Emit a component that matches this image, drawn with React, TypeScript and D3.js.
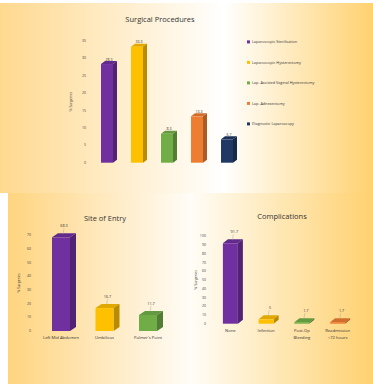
import React from "react";
import * as d3 from "d3";

const surgCats = ["Laparoscopic Sterilisation", "Laparoscopic Hysterectomy", "Lap. Assisted Vaginal Hysterectomy", "Lap. Adnexectomy", "Diagnostic Laparoscopy"];
const surgVals = [28.3, 33.3, 8.3, 13.3, 6.7];
const surgTicks = [0, 5, 10, 15, 20, 25, 30, 35];

const siteCats = ["Left Mid Abdomen", "Umbilicus", "Palmer's Point"];
const siteVals = [68.3, 16.7, 11.7];
const siteTicks = [0, 10, 20, 30, 40, 50, 60, 70];

const compCats = [["None"], ["Infection"], ["Post-Op", "Bleeding"], ["Readmission", "<72 hours"]];
const compVals = [91.7, 5, 1.7, 1.7];
const compTicks = [0, 10, 20, 30, 40, 50, 60, 70, 80, 90, 100];

const colors = ["#7030A0", "#FFC000", "#70AD47", "#ED7D31", "#1F3864"];
const FONT = "'Open Sans', 'Liberation Sans', sans-serif";

function Bar3D({ x, w, y0, y1, dx, dy, color }: any) {
  const c = d3.color(color)!;
  const top = c.darker(0.35).toString();
  const side = c.darker(0.9).toString();
  return (
    <g>
      <polygon points={`${x},${y1} ${x + dx},${y1 - dy} ${x + w + dx},${y1 - dy} ${x + w},${y1}`} fill={top} />
      <polygon points={`${x + w},${y1} ${x + w + dx},${y1 - dy} ${x + w + dx},${y0 - dy} ${x + w},${y0}`} fill={side} />
      <rect x={x} y={y1} width={w} height={y0 - y1} fill={color} />
    </g>
  );
}

function YAxis({ y, ticks, x, titleX }: any) {
  const [r0, r1] = y.range();
  return (
    <g>
      {ticks.map((t: number) => (
        <text key={t} x={x} y={y(t) + 1.2} fontSize={3.6} textAnchor="end" fill="#444" fontFamily={FONT}>{t}</text>
      ))}
      <text transform={`translate(${titleX},${(r0 + r1) / 2}) rotate(-90)`} fontSize={3.6} textAnchor="middle" fill="#444" fontFamily={FONT}>% Surgeries</text>
    </g>
  );
}

export default function App() {
  const xS = d3.scaleBand().domain(surgCats).range([92, 242]).paddingInner(0.6).paddingOuter(0.3);
  const yS = d3.scaleLinear().domain([0, 35]).range([162.7, 40.7]);
  const xE = d3.scaleBand().domain(siteCats).range([30.25, 178.75]).paddingInner(0.586).paddingOuter(0.5);
  const yE = d3.scaleLinear().domain([0, 70]).range([331, 235]);
  const compKeys = compCats.map((c) => c.join(" "));
  const xC = d3.scaleBand().domain(compKeys).range([205, 363]).paddingInner(0.58).paddingOuter(0.5);
  const yC = d3.scaleLinear().domain([0, 100]).range([323.7, 236]);

  return (
    <svg width={373} height={387} style={{ position: "absolute", left: 0, top: 0 }}>
      <defs>
        <linearGradient id="gTop" x1="0" x2="1" y1="0" y2="0">
          <stop offset="0" stopColor="#FFD98F" />
          <stop offset="0.6" stopColor="#FFFFFF" />
          <stop offset="1" stopColor="#FFD170" />
        </linearGradient>
        <linearGradient id="gBL" x1="0" x2="1" y1="0" y2="0">
          <stop offset="0" stopColor="#FFD47F" />
          <stop offset="1" stopColor="#FFFCF7" />
        </linearGradient>
        <linearGradient id="gBR" x1="0" x2="1" y1="0" y2="0">
          <stop offset="0" stopColor="#FFFDF8" />
          <stop offset="1" stopColor="#FFD170" />
        </linearGradient>
      </defs>
      <rect x={0} y={0} width={373} height={387} fill="#fff" />
      <rect x={0} y={3} width={373} height={190} fill="url(#gTop)" />
      <rect x={8} y={193} width={182} height={191} fill="url(#gBL)" />
      <rect x={190} y={193} width={183} height={191} fill="url(#gBR)" />

      <text x={160} y={22} fontSize={7.5} textAnchor="middle" fill="#333" fontFamily={FONT}>Surgical Procedures</text>
      <YAxis y={yS} ticks={surgTicks} x={86} titleX={72} />
      {surgCats.map((c, i) => {
        const x = xS(c)!;
        const w = xS.bandwidth();
        const y1 = yS(surgVals[i]);
        return (
          <g key={c}>
            <Bar3D x={x} w={w} y0={yS(0)} y1={y1} dx={4} dy={3} color={colors[i]} />
            <text x={x + w / 2 + 2} y={y1 - 3.5} fontSize={3.6} textAnchor="middle" fill="#333" fontFamily={FONT}>{surgVals[i]}</text>
          </g>
        );
      })}
      {surgCats.map((c, i) => {
        const ly = 42 + i * 20.5;
        return (
          <g key={"lg" + c}>
            <rect x={247} y={ly - 1.6} width={3} height={3} fill={colors[i]} />
            <text x={252} y={ly + 1.2} fontSize={3.8} fill="#333" fontFamily={FONT}>{c}</text>
          </g>
        );
      })}

      <text x={105} y={221} fontSize={7.5} textAnchor="middle" fill="#333" fontFamily={FONT}>Site of Entry</text>
      <YAxis y={yE} ticks={siteTicks} x={31} titleX={20} />
      {siteCats.map((c, i) => {
        const x = xE(c)!;
        const w = xE.bandwidth();
        const y1 = yE(siteVals[i]);
        const cx = x + w / 2 + 3;
        return (
          <g key={c}>
            <Bar3D x={x} w={w} y0={yE(0)} y1={y1} dx={6} dy={4} color={colors[i]} />
            <line x1={cx} x2={cx - 1} y1={y1 - 9} y2={y1 - 3} stroke="#999" strokeWidth={0.4} />
            <text x={cx} y={y1 - 10} fontSize={3.8} textAnchor="middle" fill="#333" fontFamily={FONT}>{siteVals[i]}</text>
            <text x={x + w / 2} y={339} fontSize={4.2} textAnchor="middle" fill="#333" fontFamily={FONT}>{c}</text>
          </g>
        );
      })}

      <text x={282} y={219} fontSize={7.5} textAnchor="middle" fill="#333" fontFamily={FONT}>Complications</text>
      <YAxis y={yC} ticks={compTicks} x={206} titleX={197} />
      {compKeys.map((k, i) => {
        const x = xC(k)!;
        const w = xC.bandwidth();
        const y1 = yC(compVals[i]);
        const cx = x + w / 2 + 3;
        return (
          <g key={k}>
            <Bar3D x={x} w={w} y0={yC(0)} y1={y1} dx={5} dy={4} color={colors[i]} />
            <line x1={cx} x2={cx - 1} y1={y1 - 9} y2={y1 - 3} stroke="#999" strokeWidth={0.4} />
            <text x={cx + 1} y={y1 - 10} fontSize={3.8} textAnchor="middle" fill="#333" fontFamily={FONT}>{compVals[i]}</text>
            {compCats[i].map((line, j) => (
              <text key={j} x={x + w / 2} y={332 + j * 7} fontSize={4.2} textAnchor="middle" fill="#333" fontFamily={FONT}>{line}</text>
            ))}
          </g>
        );
      })}
    </svg>
  );
}
